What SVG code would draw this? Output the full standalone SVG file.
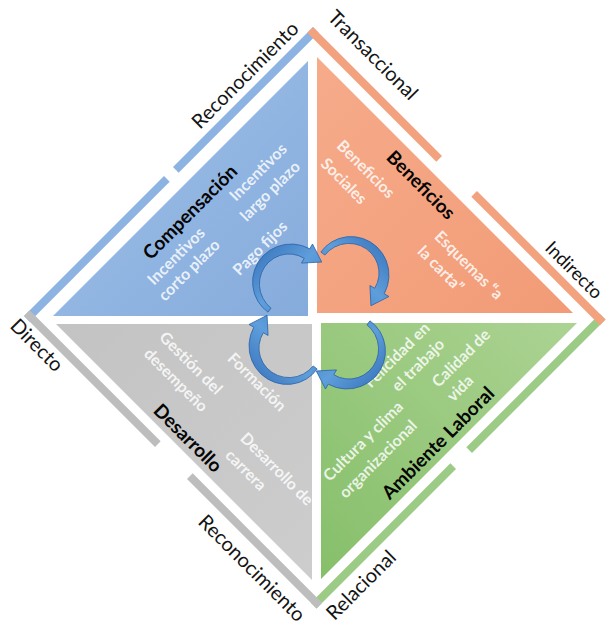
<svg xmlns="http://www.w3.org/2000/svg" xmlns:xlink="http://www.w3.org/1999/xlink" width="609" height="625" viewBox="0 0 609 625">
  <defs>
    <style>
      text { font-family: Lato, "Liberation Sans", "DejaVu Sans", sans-serif; text-anchor: middle; }
      .lbl { font-size: 20px; fill: #141414; }
      .ttl { font-size: 19px; font-weight: 700; fill: #050505; }
      .itm { font-size: 16px; font-weight: 700; fill: #ffffff; fill-opacity: 0.82; }
      .s-blue { fill: #8db3e2; }
      .s-orange { fill: #f3a27f; }
      .s-grey { fill: #bdbdbd; }
      .s-green { fill: #9ccb86; }
      .arrow { fill: url(#gArrow); stroke: #2b62a6; stroke-width: 0.8; }
    </style>
    <linearGradient id="gBlue" x1="0" y1="0" x2="1" y2="1">
      <stop offset="0" stop-color="#9fc0e8"/>
      <stop offset="1" stop-color="#86acdc"/>
    </linearGradient>
    <linearGradient id="gOrange" x1="0" y1="0" x2="1" y2="1">
      <stop offset="0" stop-color="#f6ab8a"/>
      <stop offset="1" stop-color="#f29b76"/>
    </linearGradient>
    <linearGradient id="gGrey" x1="0" y1="0" x2="1" y2="1">
      <stop offset="0" stop-color="#c3c3c3"/>
      <stop offset="1" stop-color="#cdcdcd"/>
    </linearGradient>
    <linearGradient id="gGreen" x1="0" y1="1" x2="1" y2="0">
      <stop offset="0" stop-color="#86bf6a"/>
      <stop offset="1" stop-color="#acd393"/>
    </linearGradient>
    <linearGradient id="gArrow" x1="0" y1="0" x2="1" y2="1">
      <stop offset="0" stop-color="#336fb8"/>
      <stop offset="0.5" stop-color="#5f9edb"/>
      <stop offset="1" stop-color="#3c7cc5"/>
    </linearGradient>
    <!-- one tapered curved arrow, drawn around its own centre -->
    <path id="lobe" class="arrow" d="M-21.97,29.15 A36.7,36.7 0 0 1 -31.96,18.45 A37.1,37.1 0 0 1 -37.19,3.26 A37.5,37.5 0 0 1 -35.49,-12.92 A38,38 0 0 1 -27.01,-27.01 A38.4,38.4 0 0 1 -13.21,-36.3 A38.8,38.8 0 0 1 3.41,-38.92 A39.3,39.3 0 0 1 19.75,-34.21 L22.5,-38.97 L31.72,-20.94 L11.5,-19.91 L14.25,-24.68 A28.7,28.7 0 0 0 2.52,-28.82 A29.1,29.1 0 0 0 -10.04,-27.6 A29.6,29.6 0 0 0 -21.07,-21.07 A30,30 0 0 0 -28.41,-10.34 A30.4,30.4 0 0 0 -30.55,2.67 A30.9,30.9 0 0 0 -26.93,15.55 A31.3,31.3 0 0 0 -18.96,25.16 Z"/>
  </defs>

  <rect width="609" height="625" fill="#ffffff"/>

  <!-- outer frame bands, split where the axis gaps are -->
  <g id="frame">
    <g transform="translate(24,316) rotate(-45)" class="s-blue">
      <rect x="0" y="0" width="198" height="8"/>
      <rect x="210.7" y="0" width="198" height="8"/>
    </g>
    <g transform="translate(605.5,319.5) rotate(135)" class="s-green">
      <rect x="0" y="0" width="188.8" height="8"/>
      <rect x="211.4" y="0" width="197.3" height="8"/>
    </g>
    <g transform="translate(313,27) rotate(45)" class="s-orange">
      <rect x="0" y="0" width="182.4" height="8"/>
      <rect x="231.9" y="0" width="181.8" height="8"/>
    </g>
    <g transform="translate(316.5,608.5) rotate(225)" class="s-grey">
      <rect x="0" y="0" width="183.1" height="8"/>
      <rect x="228.4" y="0" width="185.3" height="8"/>
    </g>
  </g>

  <!-- axis labels around the frame -->
  <g id="axis-labels">
    <text class="lbl" transform="translate(245,75) rotate(-45)" y="7">Reconocimiento</text>
    <text class="lbl" transform="translate(373,55) rotate(45)" y="7">Transaccional</text>
    <text class="lbl" transform="translate(574,270) rotate(45)" y="6.5" style="font-size:18.5px">Indirecto</text>
    <text class="lbl" transform="translate(37,345) rotate(45)" y="7">Directo</text>
    <text class="lbl" transform="translate(252,568) rotate(45)" y="7">Reconocimiento</text>
    <text class="lbl" transform="translate(361,585) rotate(-45)" y="7">Relacional</text>
  </g>

  <g id="compensacion">
    <polygon points="308,61 53,316 308,316" fill="url(#gBlue)"/>
    <text class="ttl" transform="translate(190,212) rotate(-45)" y="6.6">Compensación</text>
    <text class="itm" transform="translate(258,172) rotate(-45)" y="5.6">Incentivos</text>
    <text class="itm" transform="translate(270,191) rotate(-45)" y="5.6">largo plazo</text>
    <text class="itm" transform="translate(176,256) rotate(-45)" y="5.6">Incentivos</text>
    <text class="itm" transform="translate(189,270) rotate(-45)" y="5.6">corto plazo</text>
    <text class="itm" transform="translate(260,248) rotate(-45)" y="5.6">Pago fijos</text>
  </g>

  <g id="beneficios">
    <polygon points="317,57 317,313 573,313" fill="url(#gOrange)"/>
    <text class="ttl" transform="translate(421,185) rotate(45)" y="6.6">Beneficios</text>
    <text class="itm" transform="translate(366,169) rotate(45)" y="5.6">Beneficios</text>
    <text class="itm" transform="translate(344,181) rotate(45)" y="5.6">Sociales</text>
    <text class="itm" transform="translate(469,265) rotate(45)" y="5.6">Esquemas “a</text>
    <text class="itm" transform="translate(441,269) rotate(45)" y="5.6">la carta”</text>
  </g>

  <g id="desarrollo">
    <polygon points="56,324 312,324 312,580" fill="url(#gGrey)"/>
    <text class="ttl" transform="translate(188,438) rotate(45)" y="6.6">Desarrollo</text>
    <text class="itm" transform="translate(191,363) rotate(45)" y="5.6">Gestión del</text>
    <text class="itm" transform="translate(176,380) rotate(45)" y="5.6">desempeño</text>
    <text class="itm" transform="translate(257,382) rotate(45)" y="5.6">Formación</text>
    <text class="itm" transform="translate(277,469) rotate(45)" y="5.6">Desarrollo de</text>
    <text class="itm" transform="translate(246,470) rotate(45)" y="5.6">carrera</text>
  </g>

  <g id="ambiente-laboral">
    <polygon points="321,323 577,323 321,579" fill="url(#gGreen)"/>
    <text class="ttl" transform="translate(438,443) rotate(-45)" y="6.6">Ambiente Laboral</text>
    <text class="itm" transform="translate(397,355) rotate(-45)" y="5.6">Felicidad en</text>
    <text class="itm" transform="translate(418,365) rotate(-45)" y="5.6">el trabajo</text>
    <text class="itm" transform="translate(461,358) rotate(-45)" y="5.6">Calidad de</text>
    <text class="itm" transform="translate(460,388) rotate(-45)" y="5.6">vida</text>
    <text class="itm" transform="translate(363,441) rotate(-45)" y="5.6">Cultura y clima</text>
    <text class="itm" transform="translate(378,459) rotate(-45)" y="5.6">organizacional</text>
  </g>

  <!-- cycle of four curved arrows in the centre -->
  <g id="cycle-arrows">
    <use xlink:href="#lobe" transform="translate(290,283)"/>
    <use xlink:href="#lobe" transform="translate(350,274) rotate(90)"/>
    <use xlink:href="#lobe" transform="translate(348,350) rotate(180)"/>
    <use xlink:href="#lobe" transform="translate(288,347) rotate(270)"/>
  </g>
</svg>
